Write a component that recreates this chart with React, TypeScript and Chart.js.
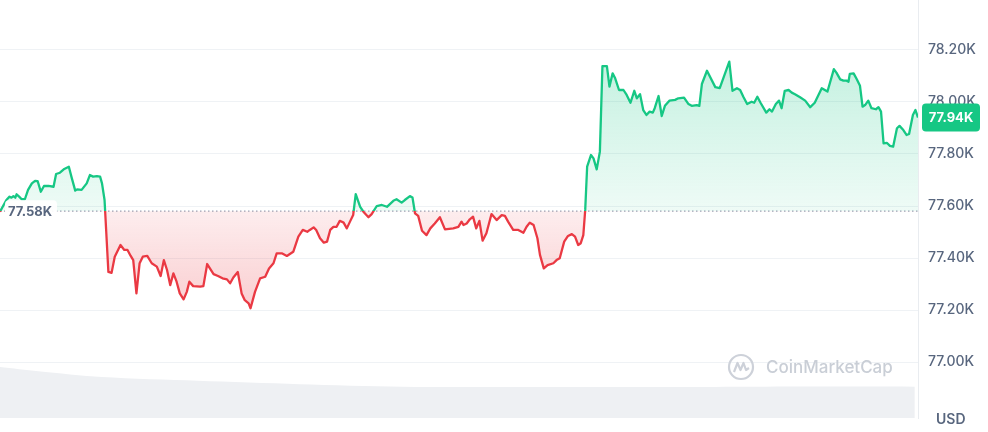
import React, { useEffect, useRef } from 'react';
import { Chart, registerables } from 'chart.js';

Chart.register(...registerables);

// Time of each price sample, minutes since the start of the 24h window
const minutes = [
  0, 10, 15, 18, 21, 24, 26, 30, 34, 39,
  44, 50, 55, 59, 64, 69, 76, 84, 88, 94,
  100, 108, 112, 118, 121, 128, 136, 141, 146, 152,
  157, 160, 164, 170, 175, 180, 189, 195, 200, 205,
  209, 214, 219, 224, 231, 238, 246, 252, 257, 262,
  267, 272, 277, 282, 288, 293, 297, 303, 314, 319,
  325, 335, 342, 349, 356, 361, 366, 373, 379, 384,
  390, 393, 400, 408, 416, 422, 429, 434, 442, 450,
  460, 468, 475, 482, 486, 492, 496, 502, 508, 513,
  518, 523, 528, 533, 539, 544, 549, 554, 558, 565,
  570, 578, 583, 591, 599, 607, 617, 622, 630, 635,
  643, 647, 651, 656, 662, 669, 675, 682, 690, 698,
  711, 719, 724, 727, 732, 737, 742, 747, 752, 757,
  763, 771, 779, 787, 792, 797, 805, 813, 821, 826,
  831, 837, 843, 847, 853, 859, 868, 873, 878, 885,
  891, 897, 902, 907, 911, 915, 918, 921, 927, 931,
  936, 941, 945, 952, 956, 961, 965, 971, 978, 983,
  989, 995, 999, 1004, 1009, 1014, 1019, 1024, 1027, 1033,
  1038, 1043, 1050, 1059, 1064, 1073, 1080, 1085, 1093, 1097,
  1101, 1109, 1122, 1129, 1144, 1149, 1156, 1161, 1166, 1172,
  1179, 1183, 1188, 1193, 1202, 1207, 1211, 1217, 1222, 1226,
  1231, 1237, 1242, 1247, 1255, 1263, 1271, 1278, 1289, 1298,
  1308, 1312, 1318, 1323, 1328, 1331, 1333, 1339, 1344, 1349,
  1353, 1357, 1362, 1367, 1374, 1378, 1382, 1386, 1391, 1396,
  1401, 1407, 1411, 1417, 1422, 1426, 1432, 1436, 1440,
];

// Price (USD) at each sample
const prices = [
  77578, 77623, 77636, 77632, 77638, 77632, 77645, 77636, 77626, 77626,
  77662, 77687, 77697, 77696, 77655, 77677, 77677, 77674, 77723, 77728,
  77741, 77751, 77713, 77659, 77664, 77662, 77687, 77719, 77713, 77715,
  77713, 77687, 77623, 77347, 77343, 77405, 77450, 77431, 77431, 77408,
  77392, 77264, 77380, 77405, 77408, 77380, 77367, 77331, 77392, 77354,
  77296, 77341, 77309, 77264, 77241, 77270, 77309, 77292, 77290, 77292,
  77377, 77338, 77331, 77322, 77318, 77303, 77325, 77346, 77264, 77238,
  77226, 77207, 77270, 77322, 77328, 77360, 77380, 77418, 77418, 77408,
  77424, 77482, 77508, 77501, 77508, 77518, 77508, 77476, 77459, 77463,
  77508, 77520, 77520, 77543, 77536, 77514, 77540, 77565, 77646, 77597,
  77578, 77557, 77569, 77600, 77604, 77597, 77620, 77626, 77613, 77623,
  77638, 77633, 77572, 77562, 77505, 77488, 77514, 77533, 77557, 77510,
  77514, 77520, 77540, 77527, 77533, 77549, 77559, 77514, 77543, 77467,
  77495, 77569, 77546, 77565, 77562, 77540, 77508, 77508, 77497, 77520,
  77536, 77527, 77476, 77412, 77360, 77373, 77380, 77392, 77399, 77463,
  77485, 77492, 77482, 77450, 77457, 77488, 77585, 77751, 77796, 77783,
  77741, 77809, 78138, 78138, 78059, 78110, 78091, 78046, 78046, 78027,
  77997, 78043, 78014, 78030, 77969, 77950, 77963, 77959, 77976, 78023,
  77946, 77985, 78005, 78008, 78014, 78017, 77992, 77985, 77988, 77985,
  78069, 78120, 78057, 78053, 78155, 78043, 78053, 78046, 78020, 77992,
  78001, 77997, 78020, 77997, 77959, 77972, 77963, 77992, 78005, 77976,
  78043, 78046, 78036, 78030, 78018, 78005, 77980, 77997, 78053, 78040,
  78126, 78113, 78087, 78082, 78082, 78078, 78108, 78110, 78087, 78062,
  77982, 77988, 78005, 77976, 77972, 77980, 77963, 77841, 77843, 77831,
  77828, 77899, 77908, 77892, 77873, 77877, 77950, 77969, 77940,
];

// Trading volume (relative units) sampled across the same window
const volumeMinutes = [0, 60, 160, 310, 470, 630, 940, 1200, 1435];
const volumeValues = [12.2, 11.2, 9.8, 8.9, 8.1, 7.5, 7.4, 7.5, 7.5];

// Price 24h ago (reference line) and axis ticks
const openPrice = 77580;
const yTickValues = [77000, 77200, 77400, 77600, 77800, 78000, 78200];
const currencyLabel = 'USD';
const brandName = 'CoinMarketCap';

const GREEN = '#16c784';
const RED = '#ea3943';
const TEXT = '#58667e';
const GRID = '#eff2f5';

const fmtK = (v: number) => (v / 1000).toFixed(2) + 'K';

function splitGradient(chart: any, stops: (r: number) => [number, string][]) {
  const { ctx, chartArea, scales } = chart;
  if (!chartArea || !scales.y) return null;
  const yb = scales.y.getPixelForValue(openPrice);
  const h = chartArea.bottom - chartArea.top;
  const r = Math.min(1, Math.max(0, (yb - chartArea.top) / h));
  const g = ctx.createLinearGradient(0, chartArea.top, 0, chartArea.bottom);
  for (const [o, c] of stops(r)) g.addColorStop(Math.min(1, Math.max(0, o)), c);
  return g;
}

function rrect(ctx: CanvasRenderingContext2D, x: number, y: number, w: number, h: number, r: number) {
  ctx.beginPath();
  ctx.moveTo(x + r, y);
  ctx.lineTo(x + w - r, y);
  ctx.quadraticCurveTo(x + w, y, x + w, y + r);
  ctx.lineTo(x + w, y + h - r);
  ctx.quadraticCurveTo(x + w, y + h, x + w - r, y + h);
  ctx.lineTo(x + r, y + h);
  ctx.quadraticCurveTo(x, y + h, x, y + h - r);
  ctx.lineTo(x, y + r);
  ctx.quadraticCurveTo(x, y, x + r, y);
  ctx.closePath();
}

const watermark = {
  id: 'watermark',
  beforeDatasetsDraw(chart: any) {
    const { ctx, chartArea } = chart;
    const cx = chartArea.right - 177;
    const cy = 367;
    ctx.save();
    ctx.strokeStyle = '#cdd1d9';
    ctx.lineWidth = 2.2;
    ctx.beginPath();
    ctx.arc(cx, cy, 12, 0, Math.PI * 2);
    ctx.stroke();
    ctx.beginPath();
    ctx.lineJoin = 'round';
    ctx.moveTo(cx - 7, cy + 5);
    ctx.lineTo(cx - 3.5, cy - 4);
    ctx.lineTo(cx - 0.5, cy + 3);
    ctx.lineTo(cx + 2.5, cy - 4);
    ctx.lineTo(cx + 5, cy + 3);
    ctx.lineTo(cx + 8, cy + 1);
    ctx.stroke();
    ctx.fillStyle = '#c9ced6';
    ctx.font = '500 17px Inter, sans-serif';
    ctx.textBaseline = 'middle';
    ctx.textAlign = 'left';
    ctx.fillText(brandName, cx + 25, cy + 1);
    ctx.restore();
  },
};

const overlay = {
  id: 'overlay',
  afterDraw(chart: any) {
    const { ctx, chartArea, scales } = chart;
    const ys = scales.y;
    ctx.save();
    // open price label at left
    const by = ys.getPixelForValue(openPrice);
    ctx.fillStyle = 'rgba(255,255,255,0.94)';
    rrect(ctx, 5, by - 11, 52, 22, 4);
    ctx.fill();
    ctx.fillStyle = TEXT;
    ctx.font = '700 13px Inter, sans-serif';
    ctx.textBaseline = 'middle';
    ctx.textAlign = 'left';
    ctx.fillText(fmtK(openPrice), 8, by + 1);
    // last price badge
    const last = prices[prices.length - 1];
    const ly = ys.getPixelForValue(last);
    const bx = chartArea.right + 4;
    ctx.fillStyle = GREEN;
    rrect(ctx, bx, ly - 14, 58, 28, 4);
    ctx.fill();
    ctx.fillStyle = '#ffffff';
    ctx.font = '700 13px Inter, sans-serif';
    ctx.textAlign = 'center';
    ctx.fillText(fmtK(last), bx + 29, ly + 1);
    // currency
    ctx.fillStyle = TEXT;
    ctx.font = '600 14px Inter, sans-serif';
    ctx.textAlign = 'left';
    ctx.fillText(currencyLabel, chartArea.right + 18, 420);
    ctx.restore();
  },
};

export default function App() {
  const ref = useRef<HTMLCanvasElement | null>(null);

  useEffect(() => {
    if (!ref.current) return;
    Chart.defaults.font.family = 'Inter, sans-serif';
    const pricePts = minutes.map((m, i) => ({ x: m, y: prices[i] }));
    const volPts = volumeMinutes.map((m, i) => ({ x: m, y: volumeValues[i] }));
    const basePts = [
      { x: minutes[0], y: openPrice },
      { x: minutes[minutes.length - 1], y: openPrice },
    ];

    const chart = new Chart(ref.current, {
      type: 'line',
      data: {
        datasets: [
          {
            data: pricePts,
            yAxisID: 'y',
            borderWidth: 2.3,
            pointRadius: 0,
            tension: 0,
            borderJoinStyle: 'round',
            borderColor: (c: any) =>
              splitGradient(c.chart, (r) => [
                [0, GREEN],
                [r, GREEN],
                [r, RED],
                [1, RED],
              ]) || GREEN,
            backgroundColor: (c: any) =>
              splitGradient(c.chart, (r) => [
                [0, 'rgba(22,199,132,0.32)'],
                [r, 'rgba(22,199,132,0.07)'],
                [r, 'rgba(234,57,67,0.09)'],
                [r + 0.25, 'rgba(234,57,67,0.26)'],
                [1, 'rgba(234,57,67,0.32)'],
              ]) || 'rgba(22,199,132,0.2)',
            fill: { target: { value: openPrice } },
            order: 0,
          } as any,
          {
            data: basePts,
            yAxisID: 'y',
            borderColor: '#9aa4b6',
            borderWidth: 1.2,
            borderDash: [1.5, 2.5],
            pointRadius: 0,
            fill: false,
            order: 1,
          },
          {
            data: volPts,
            yAxisID: 'y2',
            borderWidth: 0,
            borderColor: 'rgba(0,0,0,0)',
            backgroundColor: '#eef0f3',
            pointRadius: 0,
            tension: 0.3,
            fill: 'origin',
            order: 2,
          },
        ],
      },
      options: {
        responsive: false,
        animation: false,
        events: [],
        layout: { padding: { left: 0, top: 0, right: 0, bottom: 14 } },
        plugins: { legend: { display: false }, tooltip: { enabled: false } },
        scales: {
          x: { type: 'linear', min: 0, max: 1440, display: false },
          y: {
            position: 'right',
            min: 76785,
            max: 78392,
            afterBuildTicks: (scale: any) => {
              scale.ticks = yTickValues.map((v) => ({ value: v }));
            },
            afterFit: (scale: any) => {
              scale.width = 70;
              scale.paddingTop = 0;
              scale.paddingBottom = 0;
            },
            grid: { color: GRID, drawTicks: false, lineWidth: 1 },
            border: { display: true, color: '#e9ecf0' },
            ticks: {
              padding: 10,
              color: TEXT,
              font: { size: 14, weight: '500' as any },
              callback: (v: any) => fmtK(Number(v)),
            },
          },
          y2: { display: false, min: 0, max: 100 },
        },
      },
      plugins: [watermark, overlay],
    });
    return () => chart.destroy();
  }, []);

  return (
    <div style={{ position: 'absolute', left: 0, top: 0, width: 988, height: 432, background: '#fff' }}>
      <canvas ref={ref} width={988} height={432} style={{ display: 'block' }} />
    </div>
  );
}
